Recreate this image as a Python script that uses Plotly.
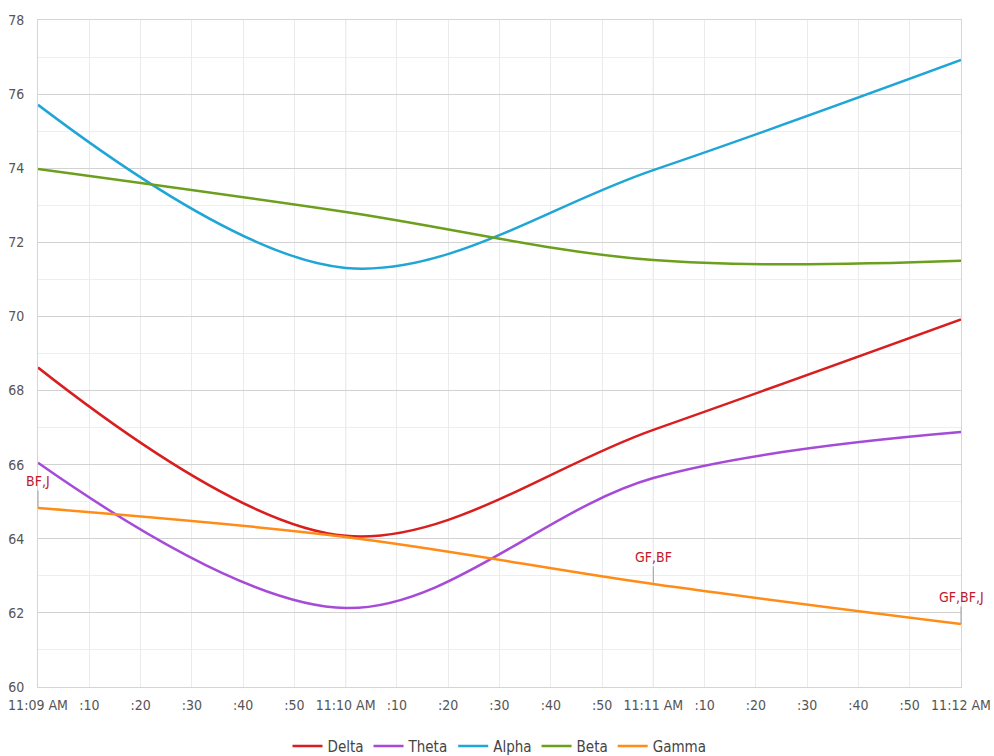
import plotly.graph_objects as go

# Sample timestamps (one reading per minute)
times = ["2024-01-01 11:09:00", "2024-01-01 11:10:00",
         "2024-01-01 11:11:00", "2024-01-01 11:12:00"]

delta = [68.62, 64.08, 66.94, 69.92]
theta = [66.05, 62.13, 65.64, 66.88]
alpha = [75.71, 71.31, 73.95, 76.92]
beta = [73.98, 72.82, 71.52, 71.50]
gamma = [64.83, 64.05, 62.78, 61.70]

series_names = ["Delta", "Theta", "Alpha", "Beta", "Gamma"]
series_values = [delta, theta, alpha, beta, gamma]
series_colors = ["#d81e1e", "#a64ad8", "#1fa5d6", "#6b9f1c", "#ff8c17"]

# Event markers placed on the Gamma line
event_times = ["2024-01-01 11:09:00", "2024-01-01 11:11:00", "2024-01-01 11:12:00"]
event_values = [64.83, 62.78, 61.70]
event_labels = ["BF,J", "GF,BF", "GF,BF,J"]

# X tick labels every ten seconds
tick_times = []
tick_labels = []
for m in (9, 10, 11, 12):
    for s in range(0, 60, 10):
        if m == 12 and s > 0:
            break
        tick_times.append(f"2024-01-01 11:{m:02d}:{s:02d}")
        tick_labels.append(f"11:{m:02d} AM" if s == 0 else f":{s}")
minute_times = [t for t, l in zip(tick_times, tick_labels) if l.endswith("AM")]

FONT = "DejaVu Sans Condensed, Liberation Sans Narrow, sans-serif"

fig = go.Figure()
for name, vals, col in zip(series_names, series_values, series_colors):
    fig.add_trace(go.Scatter(
        x=times, y=vals, name=name, mode="lines",
        line=dict(color=col, width=2.5, shape="spline", smoothing=1.0),
    ))

# darker vertical lines on each whole minute
for t in minute_times[1:-1]:
    fig.add_shape(type="line", x0=t, x1=t, y0=0, y1=1, xref="x", yref="paper",
                  line=dict(color="#cfcfcf", width=1), layer="below")

for t, v, lab in zip(event_times, event_values, event_labels):
    fig.add_annotation(
        x=t, y=v, text=lab, showarrow=True, arrowhead=0, arrowwidth=1,
        arrowcolor="#a0a0a0", ax=0, ay=-27, standoff=0,
        font=dict(family=FONT, size=14, color="#be1a2c"),
    )

fig.update_layout(
    width=994, height=756,
    margin=dict(l=38, r=33, t=20, b=69, autoexpand=False),
    paper_bgcolor="white", plot_bgcolor="white",
    font=dict(family=FONT, size=14, color="#555555"),
    showlegend=True,
    legend=dict(orientation="h", x=0.5, xanchor="center",
                yref="container", y=0.013, yanchor="middle",
                font=dict(family=FONT, size=15, color="#444444"),
                itemwidth=30, tracegroupgap=0),
    xaxis=dict(
        type="date", range=[times[0], times[-1]], automargin=False,
        tickmode="array", tickvals=tick_times, ticktext=tick_labels,
        ticklabeloverflow="allow", ticklabelstandoff=5,
        showgrid=True, gridcolor="#ebebeb", gridwidth=1,
        showline=True, linecolor="#d5d5d5", linewidth=1, mirror=True,
        ticks="", zeroline=False,
        tickfont=dict(family=FONT, size=14, color="#555555"),
    ),
    yaxis=dict(
        range=[60, 78], dtick=2, tick0=60, automargin=False,
        ticklabelstandoff=10, ticklabeloverflow="allow",
        showgrid=True, gridcolor="#d2d2d2", gridwidth=1,
        minor=dict(dtick=1, showgrid=True, gridcolor="#eeeeee", gridwidth=1),
        showline=True, linecolor="#d5d5d5", linewidth=1, mirror=True,
        ticks="", zeroline=False,
        tickfont=dict(family=FONT, size=14, color="#555555"),
    ),
)

fig.write_html("out.html")
